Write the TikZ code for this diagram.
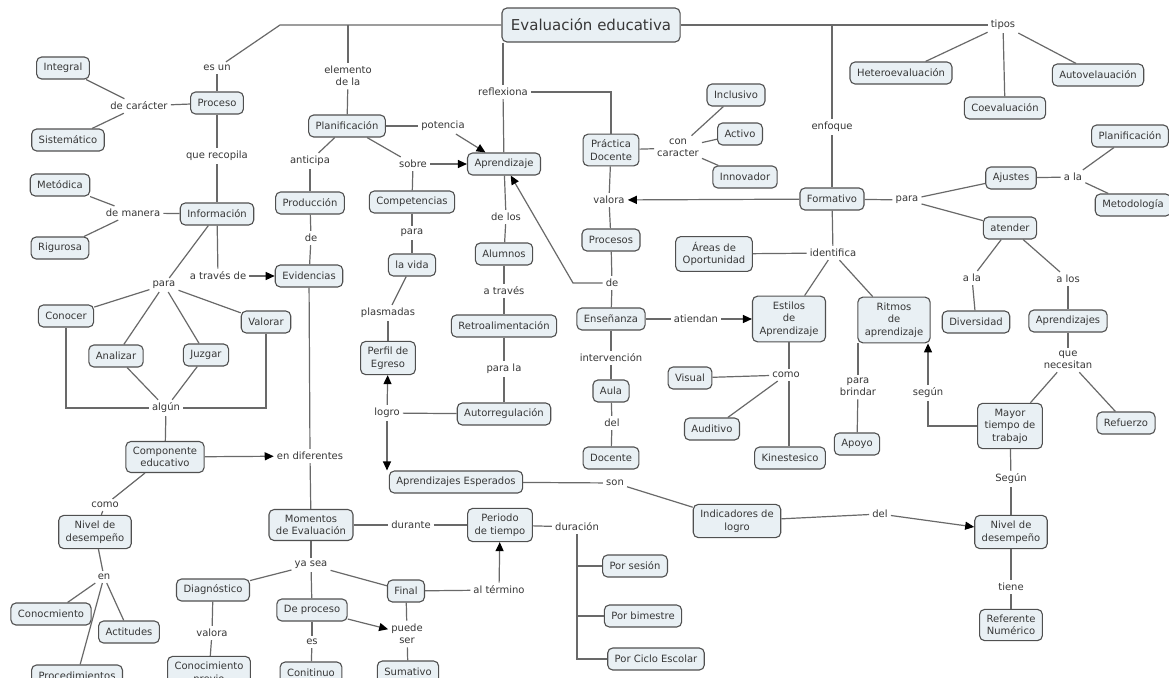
\documentclass[tikz,border=0pt]{standalone}
\usepackage{fontspec}
\setmainfont{DejaVu Sans}
\usetikzlibrary{arrows.meta}
\definecolor{boxfill}{RGB}{233,240,244}
\definecolor{boxline}{RGB}{80,80,80}
\definecolor{wire}{RGB}{105,105,105}
\definecolor{ink}{RGB}{55,55,55}
\begin{document}
\begin{tikzpicture}[x=1pt,y=-1pt,
  concept/.style={draw=boxline, fill=boxfill, line width=1.1pt, rounded corners=5pt,
    text=ink, font=\fontsize{10}{12.5}\selectfont, align=center,
    inner xsep=7pt, inner ysep=5.5pt, minimum height=22pt},
  phrase/.style={text=ink, font=\fontsize{10}{12.5}\selectfont, align=center, inner sep=3pt},
  conn/.style={draw=wire, line width=1.2pt},
  arr/.style={conn, -{Triangle[length=9pt,width=8pt,color=black]}},
]
\useasboundingbox (0,0) rectangle (1169,677);
\clip (0,0) rectangle (1169,677);
\fill[white] (0,0) rectangle (1169,677);

% ---------- concepts ----------
\node[concept, font=\fontsize{15}{18}\selectfont, minimum height=34pt, inner xsep=9pt] (title) at (591,25) {Evaluación educativa};

\node[concept] (integral) at (63,68) {Integral};
\node[concept] (sistem) at (68,140) {Sistemático};
\node[concept] (proceso) at (217,103) {Proceso};
\node[concept] (metodica) at (60,185) {Metódica};
\node[concept] (informacion) at (217,214) {Información};
\node[concept] (rigurosa) at (60,248) {Rigurosa};
\node[concept] (conocer) at (66,316) {Conocer};
\node[concept] (valorar) at (266,322) {Valorar};
\node[concept] (analizar) at (116,356) {Analizar};
\node[concept] (juzgar) at (206,355) {Juzgar};
\node[concept] (componente) at (165,457) {Componente\\educativo};
\node[concept] (nivelL) at (95,532) {Nivel de\\desempeño};
\node[concept] (conocm) at (51,614) {Conocmiento};
\node[concept] (actitudes) at (129,632) {Actitudes};
\node[concept] (procedim) at (77,676) {Procedimientos};
\node[concept] (diagnostico) at (213,590) {Diagnóstico};
\node[concept] (conprevio) at (209,673) {Conocimiento\\previo};

\node[concept] (planif) at (347,126) {Planificación};
\node[concept] (produccion) at (310,203) {Producción};
\node[concept] (competencias) at (412,202) {Competencias};
\node[concept] (evidencias) at (309,276) {Evidencias};
\node[concept] (lavida) at (412,265) {la vida};
\node[concept] (perfil) at (388,358) {Perfil de\\Egreso};
\node[concept] (aprendizaje) at (504,164) {Aprendizaje};
\node[concept] (alumnos) at (504,254) {Alumnos};
\node[concept] (retro) at (504,326) {Retroalimentación};
\node[concept] (autorreg) at (504,414) {Autorregulación};
\node[concept] (aprendesp) at (456,482) {Aprendizajes Esperados};
\node[concept] (momentos) at (311,525) {Momentos\\de Evaluación};
\node[concept] (periodo) at (500,525) {Periodo\\de tiempo};
\node[concept] (final) at (406,591) {Final};
\node[concept] (deproceso) at (312,610) {De proceso};
\node[concept] (continuo) at (311,673) {Conitinuo};
\node[concept] (sumativo) at (408,672) {Sumativo};

\node[concept] (practica) at (611,150) {Práctica\\Docente};
\node[concept] (inclusivo) at (736,95) {Inclusivo};
\node[concept] (activo) at (740,134) {Activo};
\node[concept] (innovador) at (745,177) {Innovador};
\node[concept] (procesos) at (611,240) {Procesos};
\node[concept] (ensenanza) at (611,319) {Enseñanza};
\node[concept] (aula) at (611,391) {Aula};
\node[concept] (docente) at (611,458) {Docente};
\node[concept] (areas) at (714,254) {Áreas de\\Oportunidad};
\node[concept] (estilos) at (789,319) {Estilos\\de\\Aprendizaje};
\node[concept] (ritmos) at (894,320) {Ritmos\\de\\aprendizaje};
\node[concept] (visual) at (690,378) {Visual};
\node[concept] (auditivo) at (712,429) {Auditivo};
\node[concept] (kinest) at (790,458) {Kinestesico};
\node[concept] (apoyo) at (857,444) {Apoyo};
\node[concept] (indicadores) at (737,521) {Indicadores de\\logro};
\node[concept] (porsesion) at (635,566) {Por sesión};
\node[concept] (porbim) at (643,616) {Por bimestre};
\node[concept] (porciclo) at (656,659) {Por Ciclo Escolar};

\node[concept] (formativo) at (832,199) {Formativo};
\node[concept] (hetero) at (901,73) {Heteroevaluación};
\node[concept] (coeval) at (1005,108) {Coevaluación};
\node[concept] (autoeval) at (1098,75) {Autovelauación};
\node[concept] (planifR) at (1130,136) {Planificación};
\node[concept] (ajustes) at (1011,178) {Ajustes};
\node[concept] (metodologia) at (1133,205) {Metodología};
\node[concept] (atender) at (1010,228) {atender};
\node[concept] (diversidad) at (976,322) {Diversidad};
\node[concept] (aprendR) at (1068,321) {Aprendizajes};
\node[concept] (mayor) at (1010,426) {Mayor\\tiempo de\\trabajo};
\node[concept] (refuerzo) at (1126,423) {Refuerzo};
\node[concept] (nivelR) at (1011,532) {Nivel de\\desempeño};
\node[concept] (referente) at (1011,625) {Referente\\Numérico};

% ---------- linking phrases ----------
\node[phrase] (esun) at (217,68) {es un};
\node[phrase] (decaracter) at (139,106) {de carácter};
\node[phrase] (querecopila) at (217,156) {que recopila};
\node[phrase] (demanera) at (133,213) {de manera};
\node[phrase] (para1) at (164,285) {para};
\node[phrase] (atraves) at (218,276) {a través de};
\node[phrase] (algun) at (166,408) {algún};
\node[phrase] (endif) at (310,456) {en diferentes};
\node[phrase] (como1) at (105,505) {como};
\node[phrase] (en1) at (104,577) {en};
\node[phrase] (valora2) at (212,633) {valora};
\node[phrase] (elemento) at (348,76) {elemento\\de la};
\node[phrase] (potencia) at (443,126) {potencia};
\node[phrase] (anticipa) at (310,161) {anticipa};
\node[phrase] (sobre) at (413,164) {sobre};
\node[phrase] (de1) at (311,238) {de};
\node[phrase] (para2) at (412,233) {para};
\node[phrase] (plasmadas) at (388,313) {plasmadas};
\node[phrase] (logro) at (387,413) {logro};
\node[phrase] (delos) at (506,217) {de los};
\node[phrase] (atraves2) at (504,291) {a través};
\node[phrase] (parala) at (504,369) {para la};
\node[phrase] (reflexiona) at (503,92) {reflexiona};
\node[phrase] (yasea) at (311,565) {ya sea};
\node[phrase] (durante) at (411,525) {durante};
\node[phrase] (duracion) at (577,527) {duración};
\node[phrase] (altermino) at (499,590) {al término};
\node[phrase] (es1) at (312,642) {es};
\node[phrase] (puedeser) at (407,634) {puede\\ser};
\node[phrase] (son) at (615,483) {son};
\node[phrase] (concaracter) at (678,148) {con\\caracter};
\node[phrase] (valora1) at (609,200) {valora};
\node[phrase] (de2) at (612,283) {de};
\node[phrase] (atiendan) at (696,319) {atiendan};
\node[phrase] (intervencion) at (611,358) {intervención};
\node[phrase] (del1) at (612,423) {del};
\node[phrase] (identifica) at (833,253) {identifica};
\node[phrase] (como2) at (786,375) {como};
\node[phrase] (parabrindar) at (858,387) {para\\brindar};
\node[phrase] (enfoque) at (832,127) {enfoque};
\node[phrase] (tipos) at (1003,25) {tipos};
\node[phrase] (para3) at (907,200) {para};
\node[phrase] (ala1) at (1073,177) {a la};
\node[phrase] (ala2) at (972,278) {a la};
\node[phrase] (alos) at (1068,279) {a los};
\node[phrase] (quenecesitan) at (1068,360) {que\\necesitan};
\node[phrase] (segun1) at (928,393) {según};
\node[phrase] (segun2) at (1011,479) {Según};
\node[phrase] (del2) at (880,514) {del};
\node[phrase] (tiene) at (1011,587) {tiene};

% ---------- junction points ----------
\coordinate (kEs) at (280,25);
\coordinate (kEl) at (348,25);
\coordinate (kEnf) at (832,25);
\coordinate (kDe) at (573,283);

% ---------- connectors: top ----------
\draw[conn] (title) -- (kEs) -- (esun);
\draw[conn] (kEl) -- (elemento);
\draw[conn] (title) -- (tipos);
\draw[conn] (kEnf) -- (enfoque);
\draw[conn] (title.south -| reflexiona) -- (reflexiona);
\draw[conn] (reflexiona) -- (aprendizaje);
\draw[conn] (reflexiona) -| (practica);

% left column
\draw[conn] (esun) -- (proceso);
\draw[conn] (proceso) -- (decaracter);
\draw[conn] (decaracter) -- (integral);
\draw[conn] (decaracter) -- (sistem);
\draw[conn] (proceso) -- (querecopila);
\draw[conn] (querecopila) -- (informacion);
\draw[conn] (informacion) -- (demanera);
\draw[conn] (demanera) -- (metodica);
\draw[conn] (demanera) -- (rigurosa);
\draw[conn] (informacion) -- (para1);
\draw[conn] (informacion) -- (atraves);
\draw[arr] (atraves) -- (evidencias);
\draw[conn] (para1) -- (conocer);
\draw[conn] (para1) -- (analizar);
\draw[conn] (para1) -- (juzgar);
\draw[conn] (para1) -- (valorar);
\draw[conn] (conocer) |- (algun);
\draw[conn] (valorar) |- (algun);
\draw[conn] (analizar) -- (algun);
\draw[conn] (juzgar) -- (algun);
\draw[conn] (algun) -- (componente);
\draw[arr] (componente) -- (endif);
\draw[conn] (componente) -- (como1);
\draw[conn] (como1) -- (nivelL);
\draw[conn] (nivelL) -- (en1);
\draw[conn] (en1) -- (conocm);
\draw[conn] (en1) -- (actitudes);
\draw[conn] (en1) -- (procedim);

% planning branch
\draw[conn] (elemento) -- (planif);
\draw[conn] (planif) -- (potencia);
\draw[arr] (potencia) -- (aprendizaje);
\draw[conn] (planif) -- (anticipa);
\draw[conn] (anticipa) -- (produccion);
\draw[conn] (planif) -- (sobre);
\draw[arr] (sobre) -- (aprendizaje);
\draw[conn] (sobre) -- (competencias);
\draw[conn] (produccion) -- (de1);
\draw[conn] (de1) -- (evidencias);
\draw[conn] (evidencias) -- (endif);
\draw[conn] (endif) -- (momentos);
\draw[conn] (competencias) -- (para2);
\draw[conn] (para2) -- (lavida);
\draw[conn] (lavida) -- (plasmadas);
\draw[conn] (plasmadas) -- (perfil);
\draw[conn] (autorreg) -- (logro);
\draw[arr] (logro) -- (perfil);
\draw[arr] (logro) -- (logro |- aprendesp.north);

% learning column
\draw[conn] (aprendizaje) -- (delos);
\draw[conn] (delos) -- (alumnos);
\draw[conn] (alumnos) -- (atraves2);
\draw[conn] (atraves2) -- (retro);
\draw[conn] (retro) -- (parala);
\draw[conn] (parala) -- (autorreg);

% teaching practice
\draw[conn] (practica) -- (concaracter);
\draw[conn] (concaracter) -- (inclusivo);
\draw[conn] (concaracter) -- (activo);
\draw[conn] (concaracter) -- (innovador);
\draw[conn] (practica) -- (valora1);
\draw[conn] (valora1) -- (procesos);
\draw[arr] (formativo) -- (valora1);
\draw[conn] (procesos) -- (de2);
\draw[conn] (de2) -- (ensenanza);
\draw[arr] (de2) -- (kDe) -- (aprendizaje);
\draw[conn] (ensenanza) -- (intervencion);
\draw[conn] (intervencion) -- (aula);
\draw[conn] (aula) -- (del1);
\draw[conn] (del1) -- (docente);
\draw[conn] (ensenanza) -- (atiendan);
\draw[arr] (atiendan) -- (estilos);

% formative approach
\draw[conn] (enfoque) -- (formativo);
\draw[conn] (formativo) -- (identifica);
\draw[conn] (identifica) -- (areas);
\draw[conn] (identifica) -- (estilos);
\draw[conn] (identifica) -- (ritmos);
\draw[conn] (estilos.south -| 789,0) -- (como2.north -| 789,0);
\draw[conn] (como2.south -| 789,0) -- (kinest.north -| 789,0);
\draw[conn] (como2) -- (visual);
\draw[conn] (como2) -- (auditivo);
\draw[conn] (parabrindar |- ritmos.south) -- (parabrindar);
\draw[conn] (parabrindar) -- (apoyo);
\draw[conn] (mayor) -- (mayor.west -| segun1) -- (segun1);
\draw[arr] (segun1) -- (segun1 |- ritmos.south);
\draw[conn] (formativo) -- (para3);
\draw[conn] (para3) -- (ajustes);
\draw[conn] (para3) -- (atender);
\draw[conn] (ajustes) -- (ala1);
\draw[conn] (ala1) -- (planifR);
\draw[conn] (ala1) -- (metodologia);
\draw[conn] (atender) -- (ala2);
\draw[conn] (ala2) -- (diversidad);
\draw[conn] (atender) -- (alos);
\draw[conn] (alos) -- (aprendR);
\draw[conn] (aprendR) -- (quenecesitan);
\draw[conn] (quenecesitan) -- (mayor);
\draw[conn] (quenecesitan) -- (refuerzo);
\draw[conn] (mayor) -- (segun2);
\draw[conn] (segun2) -- (nivelR);
\draw[conn] (nivelR) -- (tiene);
\draw[conn] (tiene) -- (referente);
\draw[conn] (tipos) -- (hetero);
\draw[conn] (tipos) -- (coeval);
\draw[conn] (tipos) -- (autoeval);

% expected learning and moments
\draw[conn] (aprendesp) -- (son);
\draw[conn] (son) -- (indicadores);
\draw[conn] (indicadores) -- (del2);
\draw[arr] (del2) -- (nivelR);
\draw[conn] (momentos) -- (durante);
\draw[conn] (durante) -- (periodo);
\draw[conn] (periodo) -- (duracion);
\draw[conn] (duracion) |- (porciclo);
\draw[conn] (duracion.south |- porsesion) -- (porsesion);
\draw[conn] (duracion.south |- porbim) -- (porbim);
\draw[conn] (momentos) -- (yasea);
\draw[conn] (yasea) -- (diagnostico);
\draw[conn] (yasea) -- (final);
\draw[conn] (yasea) -- (deproceso);
\draw[conn] (diagnostico) -- (valora2);
\draw[conn] (valora2) -- (conprevio);
\draw[conn] (final) -- (altermino);
\draw[arr] (altermino) -- (periodo);
\draw[conn] (deproceso) -- (es1);
\draw[conn] (es1) -- (continuo);
\draw[arr] (deproceso) -- (puedeser);
\draw[conn] (final) -- (puedeser);
\draw[conn] (puedeser) -- (sumativo);
\end{tikzpicture}
\end{document}
